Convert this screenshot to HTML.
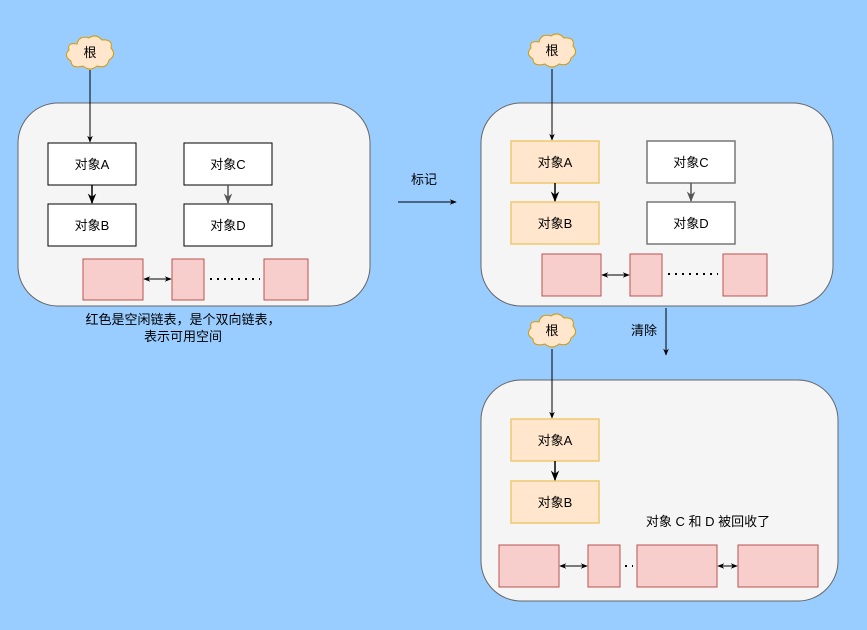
<!DOCTYPE html>
<html><head><meta charset="utf-8"><style>
html,body{margin:0;padding:0;background:#99ccff;}
svg{display:block;}
text{font-family:"Liberation Sans","Noto Sans CJK SC",sans-serif;font-size:13px;fill:#000;}
</style></head><body>
<svg width="867" height="630" viewBox="0 0 867 630" xmlns="http://www.w3.org/2000/svg">
<defs>
<marker id="ar" viewBox="0 0 10 10" refX="9" refY="5" markerWidth="7" markerHeight="7" orient="auto-start-reverse"><path d="M0,1 L10,5 L0,9 L3,5 Z" fill="#000"/></marker>
<marker id="arg" viewBox="0 0 10 10" refX="9" refY="5" markerWidth="7" markerHeight="7" orient="auto"><path d="M0,1 L10,5 L0,9 L3,5 Z" fill="#555"/></marker>
<path id="cloud" d="M12,9 Q14,0 24,3 Q31,-2 37,5 Q48,4 46,13 Q52,20 44,25 Q42,34 32,31 Q25,37 18,31 Q6,34 6,26 Q-2,21 4,15 Q2,7 12,9 Z" fill="#ffe6cc" stroke="#d79b00" stroke-width="1"/>
</defs>
<rect width="867" height="630" fill="#99ccff"/>

<!-- Left panel -->
<rect x="18" y="103" width="352" height="203" rx="40" fill="#f5f5f5" stroke="#666"/>
<use href="#cloud" x="65" y="35"/>
<text x="90" y="57" text-anchor="middle">根</text>
<line x1="90" y1="70" x2="90" y2="142" stroke="#000" marker-end="url(#ar)"/>
<rect x="48" y="143" width="88" height="42" fill="#fff" stroke="#000"/>
<text x="92" y="169" text-anchor="middle">对象A</text>
<rect x="48" y="204" width="88" height="42" fill="#fff" stroke="#000"/>
<text x="92" y="230" text-anchor="middle">对象B</text>
<line x1="92" y1="185" x2="92" y2="203" stroke="#000" stroke-width="1.5" marker-end="url(#ar)"/>
<rect x="184" y="143" width="88" height="42" fill="#fff" stroke="#000"/>
<text x="228" y="169" text-anchor="middle">对象C</text>
<rect x="184" y="204" width="88" height="42" fill="#fff" stroke="#000"/>
<text x="228" y="230" text-anchor="middle">对象D</text>
<line x1="228" y1="185" x2="228" y2="203" stroke="#555" stroke-width="1.5" marker-end="url(#arg)"/>
<rect x="83" y="259" width="60" height="41" fill="#f8cecc" stroke="#b85450"/>
<rect x="172" y="259" width="32" height="41" fill="#f8cecc" stroke="#b85450"/>
<rect x="264" y="259" width="44" height="41" fill="#f8cecc" stroke="#b85450"/>
<line x1="144" y1="279" x2="171" y2="279" stroke="#000" marker-start="url(#ar)" marker-end="url(#ar)"/>
<line x1="210" y1="279" x2="260" y2="279" stroke="#000" stroke-width="2" stroke-dasharray="2,5"/>
<text x="183" y="324" text-anchor="middle">红色是空闲链表，是个双向链表，</text>
<text x="183" y="341" text-anchor="middle">表示可用空间</text>

<!-- mark arrow -->
<text x="424" y="184" text-anchor="middle">标记</text>
<line x1="398" y1="202" x2="456" y2="202" stroke="#000" marker-end="url(#ar)"/>

<!-- Right top panel -->
<rect x="481" y="103" width="352" height="203" rx="40" fill="#f5f5f5" stroke="#666"/>
<use href="#cloud" x="527" y="33"/>
<text x="552" y="55" text-anchor="middle">根</text>
<line x1="552" y1="69" x2="552" y2="140" stroke="#000" marker-end="url(#ar)"/>
<rect x="511" y="141" width="88" height="42" fill="#ffe6cc" stroke="#f0c870" stroke-width="1.5"/>
<text x="555" y="167" text-anchor="middle">对象A</text>
<rect x="511" y="202" width="88" height="42" fill="#ffe6cc" stroke="#f0c870" stroke-width="1.5"/>
<text x="555" y="228" text-anchor="middle">对象B</text>
<line x1="555" y1="183" x2="555" y2="201" stroke="#000" stroke-width="1.5" marker-end="url(#ar)"/>
<rect x="647" y="141" width="88" height="42" fill="#fff" stroke="#777" stroke-width="1.5"/>
<text x="691" y="167" text-anchor="middle">对象C</text>
<rect x="647" y="202" width="88" height="42" fill="#fff" stroke="#777" stroke-width="1.5"/>
<text x="691" y="228" text-anchor="middle">对象D</text>
<line x1="691" y1="183" x2="691" y2="201" stroke="#555" stroke-width="1.5" marker-end="url(#arg)"/>
<rect x="542" y="254" width="59" height="42" fill="#f8cecc" stroke="#b85450"/>
<rect x="630" y="254" width="32" height="42" fill="#f8cecc" stroke="#b85450"/>
<rect x="723" y="254" width="44" height="42" fill="#f8cecc" stroke="#b85450"/>
<line x1="602" y1="275" x2="629" y2="275" stroke="#000" marker-start="url(#ar)" marker-end="url(#ar)"/>
<line x1="668" y1="274" x2="718" y2="274" stroke="#000" stroke-width="2" stroke-dasharray="2,5"/>

<!-- clear arrow -->
<text x="644" y="335" text-anchor="middle">清除</text>
<line x1="666" y1="308" x2="666" y2="355" stroke="#000" marker-end="url(#ar)"/>

<!-- Bottom panel -->
<rect x="481" y="380" width="357" height="221" rx="40" fill="#f5f5f5" stroke="#666"/>
<use href="#cloud" x="527" y="313"/>
<text x="552" y="335" text-anchor="middle">根</text>
<line x1="552" y1="349" x2="552" y2="418" stroke="#000" marker-end="url(#ar)"/>
<rect x="511" y="419" width="88" height="42" fill="#ffe6cc" stroke="#f0c870" stroke-width="1.5"/>
<text x="555" y="445" text-anchor="middle">对象A</text>
<rect x="511" y="481" width="88" height="42" fill="#ffe6cc" stroke="#f0c870" stroke-width="1.5"/>
<text x="555" y="507" text-anchor="middle">对象B</text>
<line x1="555" y1="461" x2="555" y2="480" stroke="#000" stroke-width="1.5" marker-end="url(#ar)"/>
<text x="708" y="526" text-anchor="middle">对象 C 和 D 被回收了</text>
<rect x="499" y="545" width="60" height="42" fill="#f8cecc" stroke="#b85450"/>
<rect x="588" y="545" width="32" height="42" fill="#f8cecc" stroke="#b85450"/>
<rect x="637" y="545" width="80" height="42" fill="#f8cecc" stroke="#b85450"/>
<rect x="738" y="545" width="80" height="42" fill="#f8cecc" stroke="#b85450"/>
<line x1="560" y1="566" x2="587" y2="566" stroke="#000" marker-start="url(#ar)" marker-end="url(#ar)"/>
<line x1="718" y1="566" x2="737" y2="566" stroke="#000" marker-start="url(#ar)" marker-end="url(#ar)"/>
<line x1="625" y1="566" x2="633" y2="566" stroke="#000" stroke-width="2" stroke-dasharray="2,5"/>
</svg>
</body></html>
